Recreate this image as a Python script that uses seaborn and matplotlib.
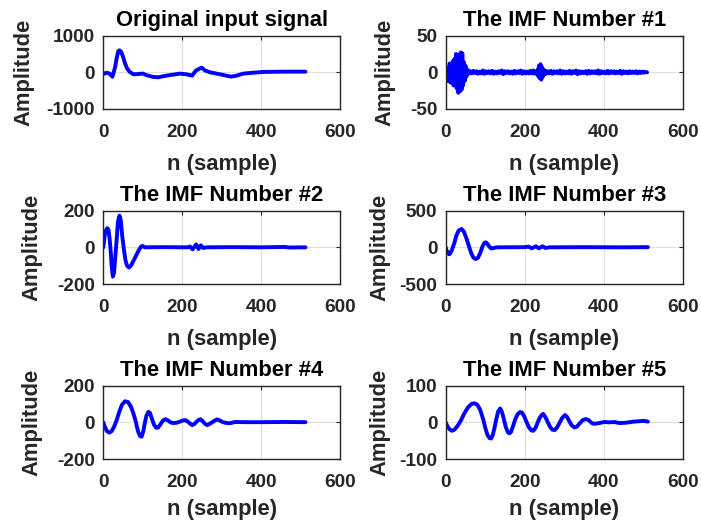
import numpy as np
import pandas as pd
import matplotlib
matplotlib.use("Agg")
import matplotlib.pyplot as plt
import seaborn as sns

# ---------------- data ----------------
orig_x = [0, 8, 15, 23, 30, 34, 38, 41, 45, 50, 55, 60, 66, 76, 89, 100, 110, 127, 139, 160,
          194, 211, 225, 234, 240, 249, 257, 270, 287, 304, 323, 338, 354, 380, 405, 456, 512]
orig_y = [-45, -10, -30, -120, 150, 400, 580, 600, 560, 420, 245, 110, 20, -55, -45, -35, -80,
          -127, -136, -90, -36, -55, -90, 45, 80, 127, 55, 0, -36, -73, -118, -90, -36, -10,
          10, 18, 18]

imf1_burst1_x = list(range(0, 61, 2))
imf1_burst1_y = [0, 4, -12, 6, -10, 12, -14, 10, -8, 15, -18, 18, -15, 25, -22, 24, -28, 18,
                 -26, 27, -24, 26, -18, 14, -12, 9, -6, 4, -3, 2, -1]
imf1_tail1_x = list(range(62, 231, 4))
imf1_tail1_y = [1.5, -1.5, 2, -1, 1.5, -2, 1, -1.5, 2.5, -2, 1.5, -1, 1.5, -1.5, 2, -2, 1, -1.5,
                1.5, -1, 2.5, -2.5, 1.5, -1, 1.5, -1.5, 1, -2, 2, -1.5, 1.5, -1, 2.5, -2, 1.5,
                -1.5, 1, -1.5, 2, -1.5, 2.5, -2, 1.5]
imf1_burst2_x = list(range(232, 255, 2))
imf1_burst2_y = [3, -5, 9, -8, 11, -10, 7, -6, 4, -3, 2, -2]
imf1_tail2_x = list(range(258, 511, 4))
imf1_tail2_y = [1.5, -1.5, 2, -2, 1.5, -1, 1.5, -1.5, 2.5, -2, 1.5, -1.5, 1, -1.5, 2, -2, 1.5,
                -1, 2.5, -2.5, 1.5, -1.5, 1, -1, 1.5, -2, 2, -1.5, 1.5, -1, 1.5, -1.5, 2.5, -2,
                1.5, -1, 1, -1.5, 2, -1.5, 1.5, -1, 1.5, -1.5, 1, -1, 2, -2, 1.5, -1, 1, -1.5,
                1.5, -1, 1, -1, 1.5, -1.5, 1, -1, 1, -0.5, 0.5, 0]

imf2_x = [0, 3, 6, 10, 13, 16, 19, 21, 24, 27, 30, 34, 37, 41, 44, 48, 52, 56, 60, 65, 70, 76,
          83, 90, 96, 100, 105, 150, 215, 219, 226, 235, 241, 247, 253, 260, 330, 400, 460,
          470, 512]
imf2_y = [0, 55, 90, 105, 95, 45, -30, -100, -160, -140, -60, 50, 140, 173, 150, 60, -10, -70,
          -100, -110, -100, -75, -45, -15, 5, 7, 0, 1, 0, 5, -11, 16, -9, 11, -4, 0, 1, 0, 2,
          -1, 0]

imf3_x = [0, 3, 6, 9, 12, 16, 22, 27, 33, 40, 46, 52, 58, 64, 70, 76, 82, 88, 93, 98, 102,
          106, 111, 115, 120, 126, 132, 200, 210, 218, 228, 236, 245, 253, 262, 350, 450, 512]
imf3_y = [0, -50, -85, -95, -80, -30, 60, 160, 230, 250, 215, 130, 30, -70, -140, -160, -140,
          -70, 10, 60, 68, 45, 5, -15, -12, -3, 0, 2, 9, -14, 14, -14, 14, -9, 0, 2, 0, 2]

imf4_x = [0, 4, 9, 15, 21, 28, 34, 40, 47, 55, 63, 70, 76, 82, 88, 93, 97, 101, 105, 109, 114,
          118, 123, 128, 134, 139, 145, 151, 157, 163, 170, 177, 186, 194, 201, 208, 214, 219,
          225, 230, 236, 241, 246, 251, 257, 263, 268, 274, 281, 288, 295, 302, 310, 321, 333,
          360, 400, 460, 512]
imf4_y = [0, -25, -48, -56, -48, -20, 13, 55, 95, 115, 110, 85, 50, 5, -50, -75, -78, -50, -5,
          35, 57, 52, 20, -12, -30, -28, -10, 10, 17, 12, 0, -4, -2, 4, 10, 12, 4, -6, -15,
          -10, 3, 13, 17, 8, -7, -15, -10, -2, 8, 16, 10, 2, -3, -5, 2, 1, 1, 2, 1]

imf5_x = [0, 5, 10, 16, 22, 30, 39, 47, 56, 65, 73, 80, 87, 95, 101, 106, 111, 115, 119, 123,
          128, 133, 138, 142, 147, 152, 157, 161, 165, 170, 176, 182, 188, 193, 199, 205, 211,
          217, 222, 228, 233, 238, 243, 247, 252, 258, 264, 270, 276, 282, 288, 295, 302, 307,
          313, 319, 326, 332, 340, 347, 355, 362, 370, 376, 389, 402, 414, 427, 440, 456, 477,
          502, 512]
imf5_y = [0, -12, -19, -23, -20, -10, 6, 24, 40, 50, 52, 48, 35, 8, -18, -35, -43, -44, -35,
          -18, 8, 30, 38, 30, 10, -12, -26, -30, -27, -12, 8, 22, 28, 27, 16, 0, -14, -22, -23,
          -14, 0, 12, 20, 23, 15, 2, -12, -20, -21, -14, -2, 12, 20, 15, 3, -8, -14, -12, -2,
          6, 9, 6, -2, -4, -2, 1, 0, 1, -2, -1, 2, 4, 2]

titles = ["Original input signal", "The IMF Number #1", "The IMF Number #2",
          "The IMF Number #3", "The IMF Number #4", "The IMF Number #5"]
y_limits = [1000, 50, 200, 500, 200, 100]
x_ticks = [0, 200, 400, 600]

# ---------------- assemble ----------------
imf1_x = imf1_burst1_x + imf1_tail1_x + imf1_burst2_x + imf1_tail2_x
imf1_y = imf1_burst1_y + imf1_tail1_y + imf1_burst2_y + imf1_tail2_y

series = [(orig_x, orig_y), (imf1_x, imf1_y), (imf2_x, imf2_y),
          (imf3_x, imf3_y), (imf4_x, imf4_y), (imf5_x, imf5_y)]

sns.set_theme(style="white")
plt.rcParams['font.family'] = ['Liberation Sans', 'DejaVu Sans']
plt.rcParams['font.weight'] = 'bold'
plt.rcParams['axes.unicode_minus'] = False

fig = plt.figure(figsize=(7.01, 5.24), dpi=100)

lefts = [0.1474, 0.6358]
bottoms = [0.792, 0.458, 0.124]
w, h = 0.338, 0.140
ylab_x = [[-0.292, -0.213], [-0.257, -0.234], [-0.257, -0.234]]
xlab_y = [-0.62, -0.62, -0.55]

dark = "#262626"
for i, (xs, ys) in enumerate(series):
    r, c = divmod(i, 2)
    ax = fig.add_axes([lefts[c], bottoms[r], w, h])
    df = pd.DataFrame({"n": xs, "amp": ys})
    sns.lineplot(data=df, x="n", y="amp", sort=False, estimator=None,
                 color="#0000FF", linewidth=2.8, ax=ax)
    lim = y_limits[i]
    ax.set_xlim(0, 600)
    ax.set_ylim(-lim, lim)
    ax.set_xticks(x_ticks)
    ax.set_yticks([-lim, 0, lim])
    ax.grid(True, color="#dedede", linewidth=0.8)
    ax.set_axisbelow(True)
    for s in ax.spines.values():
        s.set_visible(True)
        s.set_color(dark)
        s.set_linewidth(1.0)
    ax.tick_params(direction="in", length=3, width=0.8, color=dark,
                   top=True, right=True, labelsize=13.7, labelcolor=dark)
    ax.tick_params(axis="x", pad=11)
    ax.tick_params(axis="y", pad=6)
    for lab in ax.get_xticklabels() + ax.get_yticklabels():
        lab.set_fontweight("bold")
    ax.set_title(titles[i], fontsize=15.8, fontweight="bold", color="black", pad=7)
    ax.set_xlabel("n (sample)", fontsize=15.8, fontweight="bold", color=dark)
    ax.set_ylabel("Amplitude", fontsize=15.8, fontweight="bold", color=dark)
    ax.xaxis.set_label_coords(0.5, xlab_y[r])
    ax.yaxis.set_label_coords(ylab_x[r][c], 0.5)

fig.savefig("out.png", dpi=100)
